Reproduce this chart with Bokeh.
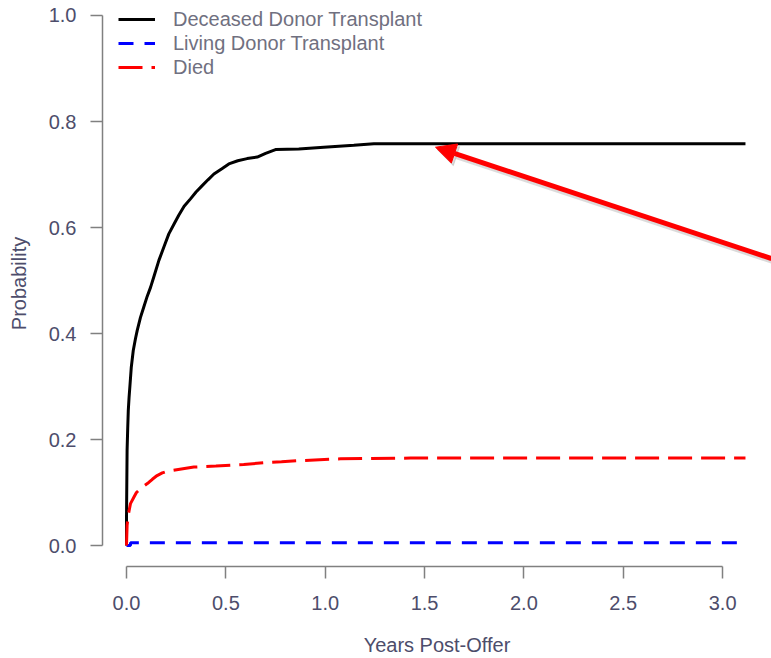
from bokeh.plotting import figure
from bokeh.models import Range1d, FixedTicker, PrintfTickFormatter, Legend, LegendItem, Arrow, NormalHead
from bokeh.embed import file_html
from bokeh.resources import INLINE

# ---- data ----
deceased_years = [0.0, 0.0, 0.003, 0.006, 0.009, 0.013, 0.017, 0.024, 0.034, 0.045, 0.054,
                  0.07, 0.087, 0.104, 0.121, 0.14, 0.163, 0.19, 0.213, 0.24, 0.263, 0.29,
                  0.322, 0.35, 0.381, 0.41, 0.44, 0.48, 0.515, 0.56, 0.607, 0.658, 0.70,
                  0.75, 0.867, 0.993, 1.144, 1.245, 3.115]
deceased_prob = [0.0, 0.05, 0.18, 0.22, 0.255, 0.28, 0.30, 0.336, 0.368, 0.39, 0.406,
                 0.43, 0.45, 0.47, 0.487, 0.51, 0.538, 0.565, 0.588, 0.607, 0.623, 0.64,
                 0.654, 0.667, 0.679, 0.69, 0.701, 0.711, 0.72, 0.726, 0.730, 0.733, 0.740,
                 0.747, 0.748, 0.7515, 0.755, 0.758, 0.758]

living_years = [0.0, 0.02, 3.115]
living_prob = [0.0, 0.005, 0.005]

died_years = [0.0, 0.003, 0.01, 0.02, 0.037, 0.05, 0.07, 0.09, 0.112, 0.13, 0.154, 0.18,
              0.205, 0.339, 0.45, 0.59, 0.69, 0.78, 0.86, 1.077, 1.43, 3.115]
died_prob = [0.0, 0.038, 0.06, 0.079, 0.091, 0.10, 0.107, 0.113, 0.119, 0.125, 0.132, 0.137,
             0.140, 0.148, 0.150, 0.153, 0.156, 0.158, 0.160, 0.1635, 0.165, 0.165]

series_names = ["Deceased Donor Transplant", "Living Donor Transplant", "Died"]

x_ticks = [0.0, 0.5, 1.0, 1.5, 2.0, 2.5, 3.0]
x_tick_labels = ["0.0", "0.5", "1.0", "1.5", "2.0", "2.5", "3.0"]
y_ticks = [0.0, 0.2, 0.4, 0.6, 0.8, 1.0]
y_tick_labels = ["0.0", "0.2", "0.4", "0.6", "0.8", "1.0"]

# annotation arrow (data coordinates): tail -> tip
arrow_tail = [3.246, 0.5415]
arrow_tip = [1.555, 0.7515]

FONT = "Liberation Sans"
TICK_COLOR = "#4d4d6b"
AXIS_COLOR = "#808080"

p = figure(width=771, height=658, output_backend="svg", toolbar_location=None,
           x_range=Range1d(-0.1208, 3.246), y_range=Range1d(-0.0396, 1.0283),
           min_border_left=102, min_border_right=0, min_border_top=0, min_border_bottom=92)
p.outline_line_color = None
p.xgrid.visible = False
p.ygrid.visible = False
p.background_fill_color = "white"
p.border_fill_color = "white"

r_dec = p.line(deceased_years, deceased_prob, line_color="black", line_width=3)
r_liv = p.step(living_years, living_prob, mode="after", line_color="blue", line_width=3,
               line_dash="15 11")
r_died = p.line(died_years, died_prob, line_color="red", line_width=3,
                line_dash="24 9")

for ax, ticks, labels, bounds in ((p.xaxis[0], x_ticks, x_tick_labels, (0, 3)),
                                  (p.yaxis[0], y_ticks, y_tick_labels, (0, 1))):
    ax.bounds = bounds
    ax.ticker = FixedTicker(ticks=ticks)
    ax.formatter = PrintfTickFormatter(format="%.1f")
    ax.major_label_overrides = {float(t): l for t, l in zip(ticks, labels)}
    ax.axis_line_color = AXIS_COLOR
    ax.axis_line_width = 1.5
    ax.major_tick_line_color = AXIS_COLOR
    ax.major_tick_line_width = 1.5
    ax.major_tick_out = 12
    ax.major_tick_in = 0
    ax.minor_tick_line_color = None
    ax.major_label_text_font = FONT
    ax.major_label_text_font_size = "20px"
    ax.major_label_text_color = TICK_COLOR
    ax.axis_label_text_font = FONT
    ax.axis_label_text_font_size = "20px"
    ax.axis_label_text_font_style = "normal"
    ax.axis_label_text_color = TICK_COLOR

p.xaxis.major_label_standoff = 17
p.xaxis.axis_label = "Years Post-Offer"
p.xaxis.axis_label_standoff = 21
p.yaxis.major_label_standoff = 14
p.yaxis.axis_label = "Probability"
p.yaxis.axis_label_standoff = 16

legend = Legend(items=[LegendItem(label=n, renderers=[r]) for n, r in
                       zip(series_names, [r_dec, r_liv, r_died])],
                location=(16, 487), margin=0, padding=0, spacing=0,
                label_height=24, glyph_height=24, glyph_width=37, label_standoff=18,
                border_line_alpha=0, background_fill_alpha=0,
                label_text_font=FONT, label_text_font_size="20px",
                label_text_color="#707080")
p.add_layout(legend)

shadow = Arrow(end=NormalHead(size=20, fill_color="#999999", line_color="#999999",
                              fill_alpha=0.35, line_alpha=0.35),
               x_start=arrow_tail[0] + 0.01, y_start=arrow_tail[1] - 0.005,
               x_end=arrow_tip[0] + 0.01, y_end=arrow_tip[1] - 0.005,
               line_color="#999999", line_alpha=0.35, line_width=6)
p.add_layout(shadow)
arrow = Arrow(end=NormalHead(size=20, fill_color="red", line_color="red"),
              x_start=arrow_tail[0], y_start=arrow_tail[1],
              x_end=arrow_tip[0], y_end=arrow_tip[1],
              line_color="red", line_width=5)
p.add_layout(arrow)

open("out.html", "w").write(file_html(p, INLINE))
